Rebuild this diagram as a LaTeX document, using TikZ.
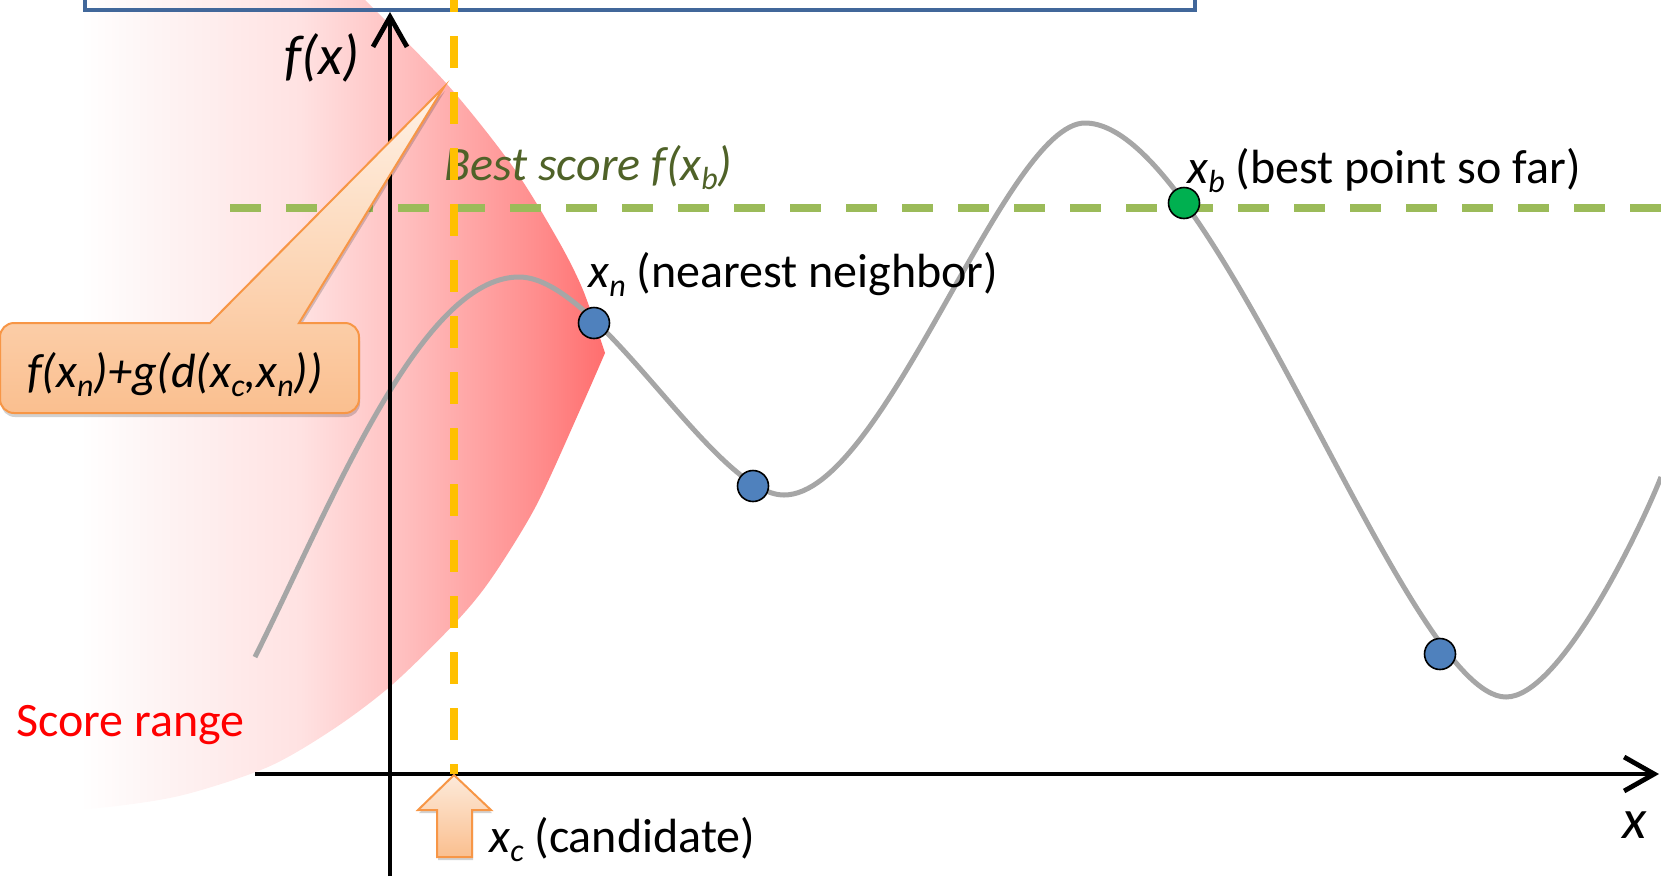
\documentclass[tikz,border=0pt]{standalone}
\usepackage{fontspec}
\setmainfont{Carlito}
\usetikzlibrary{arrows.meta,shadows}
\definecolor{boxblue}{HTML}{41679A}
\definecolor{curvegray}{HTML}{A6A6A6}
\definecolor{ydash}{HTML}{FFC000}
\definecolor{gdash}{HTML}{9BBB59}
\definecolor{bestgreen}{HTML}{4F6228}
\definecolor{dotblue}{HTML}{4F81BD}
\definecolor{dotgreen}{HTML}{00B050}
\definecolor{orangeline}{HTML}{F79646}
\definecolor{orangelight}{HTML}{FFF2E6}
\definecolor{orangedark}{HTML}{FABF8F}
\definecolor{arrowlight}{HTML}{FDEADA}
\definecolor{sra}{HTML}{FEF5F5}
\definecolor{srb}{HTML}{FFE2E2}
\definecolor{src}{HTML}{FFC4C4}
\definecolor{srd}{HTML}{FFAAAA}
\definecolor{sre}{HTML}{FF8C8C}
\definecolor{srf}{HTML}{FF6E6E}
\pgfdeclarehorizontalshading{scorerange}{100bp}{color(0bp)=(white); color(31.6bp)=(white); color(37.4bp)=(sra); color(49.8bp)=(srb); color(57.2bp)=(src); color(63bp)=(srd); color(69.6bp)=(sre); color(75bp)=(srf); color(100bp)=(srf)}
\newcommand{\sbx}[1]{\raisebox{-9pt}{\fontsize{32pt}{32pt}\selectfont\itshape #1}}
\begin{document}
\begin{tikzpicture}[x=1pt,y=-1pt,
  lbl/.style={inner sep=0pt, font=\fontsize{48pt}{56pt}\selectfont},
  axlbl/.style={inner sep=0pt, font=\fontsize{56pt}{64pt}\selectfont},
  axisline/.style={line width=4.8pt, -{Straight Barb[length=30pt,width=34pt]}},
  dotnode/.style={circle, draw=black, line width=1.6pt, minimum size=31pt, inner sep=0pt},
  calloutshape/.style={draw=orangeline, line width=2pt, top color=orangelight, bottom color=orangedark,
     drop shadow={shadow xshift=1pt, shadow yshift=-4pt, fill=black, opacity=0.18}},
  blockarrow/.style={draw=orangeline, line width=2pt, top color=arrowlight, bottom color=orangedark,
     drop shadow={shadow xshift=1pt, shadow yshift=-3pt, fill=black, opacity=0.18}}
]
\useasboundingbox (0,0) rectangle (1661,876);

% score range
\shade[shading=scorerange] (0,-10) -- plot[smooth, tension=0.5] coordinates {(355,-10) (446,83) (513,167) (558,240) (583,290) (605,353)}
  -- plot[smooth, tension=0.5] coordinates {(605,353) (580,410) (536,506) (491,579) (455,623) (393,684) (335,728) (268,767) (179,796) (89,809) (0,813)} -- cycle;

% blue frame at top
\draw[boxblue, line width=3.5pt] (85,-40) rectangle (1195,10);

% function curve
\coordinate (c0) at (255,657);
\coordinate (c1) at (519,277);
\coordinate (c2) at (784,495);
\coordinate (c3) at (1085,123);
\coordinate (c4) at (1506,697);
\coordinate (c5) at (1661,477);
\draw[curvegray, line width=5pt]
  (c0) .. controls (330,507) and (420,277) .. (c1)
       .. controls (599,277) and (714,495) .. (c2)
       .. controls (884,495) and (1005,123) .. (c3)
       .. controls (1215,123) and (1406,697) .. (c4)
       .. controls (1560,697) and (1640,530) .. (c5);

% axes
\coordinate (ybot) at (390,876);
\coordinate (ytop) at (390,12);
\coordinate (xleft) at (255,774);
\coordinate (xright) at (1659,774);
\draw[axisline] (ybot) -- (ytop);
\draw[axisline] (xleft) -- (xright);

% best score line
\coordinate (gl) at (230,208);
\coordinate (gr) at (1661,208);
\draw[gdash, line width=8pt, dash pattern=on 31pt off 25pt] (gl) -- (gr);

% best score label
\node[lbl, anchor=base west, text=bestgreen] (lbest) at (444,180) {\textit{Best score f(x\sbx{b})}};

% candidate line
\coordinate (yt) at (454,0);
\coordinate (yb) at (454,774);
\draw[ydash, line width=7.5pt, dash pattern=on 32pt off 24pt, dash phase=20pt] (yt) -- (yb);

% callout
\path[calloutshape] (0,368) [rounded corners=14pt] -- (0,323) [sharp corners] -- (210,323) -- (444,87) -- (299,323) [rounded corners=14pt] -- (359,323) -- (359,413) -- (0,413) -- cycle;
\node[lbl, anchor=base west] (lcall) at (27,387) {\textit{f(x\sbx{n})+g(d(x\sbx{c},x\sbx{n}))}};

% candidate block arrow
\path[blockarrow] (454,775) -- (491,810) -- (472,810) -- (472,857) -- (437,857) -- (437,810) -- (418,810) -- cycle;

% points
\node[dotnode, fill=dotblue] (pn) at (594,323) {};
\node[dotnode, fill=dotblue] (pm1) at (753,486) {};
\node[dotnode, fill=dotblue] (pm2) at (1440,654) {};
\node[dotnode, fill=dotgreen] (pb) at (1184,203) {};

% labels
\node[lbl, anchor=base west] (lxn) at (588,287) {\textit{x}\sbx{n} (nearest neighbor)};
\node[lbl, anchor=base west] (lxb) at (1187,183) {\textit{x}\sbx{b} (best point so far)};
\node[lbl, anchor=base west] (lxc) at (489,852) {\textit{x}\sbx{c} (candidate)};
\node[lbl, anchor=base west, text=red] (lscore) at (16,736) {Score range};
\node[axlbl, anchor=base west] (lfx) at (284,74) {\textit{f(x)}};
\node[axlbl, anchor=base west] (lx) at (1622,838) {\textit{x}};
\end{tikzpicture}
\end{document}
